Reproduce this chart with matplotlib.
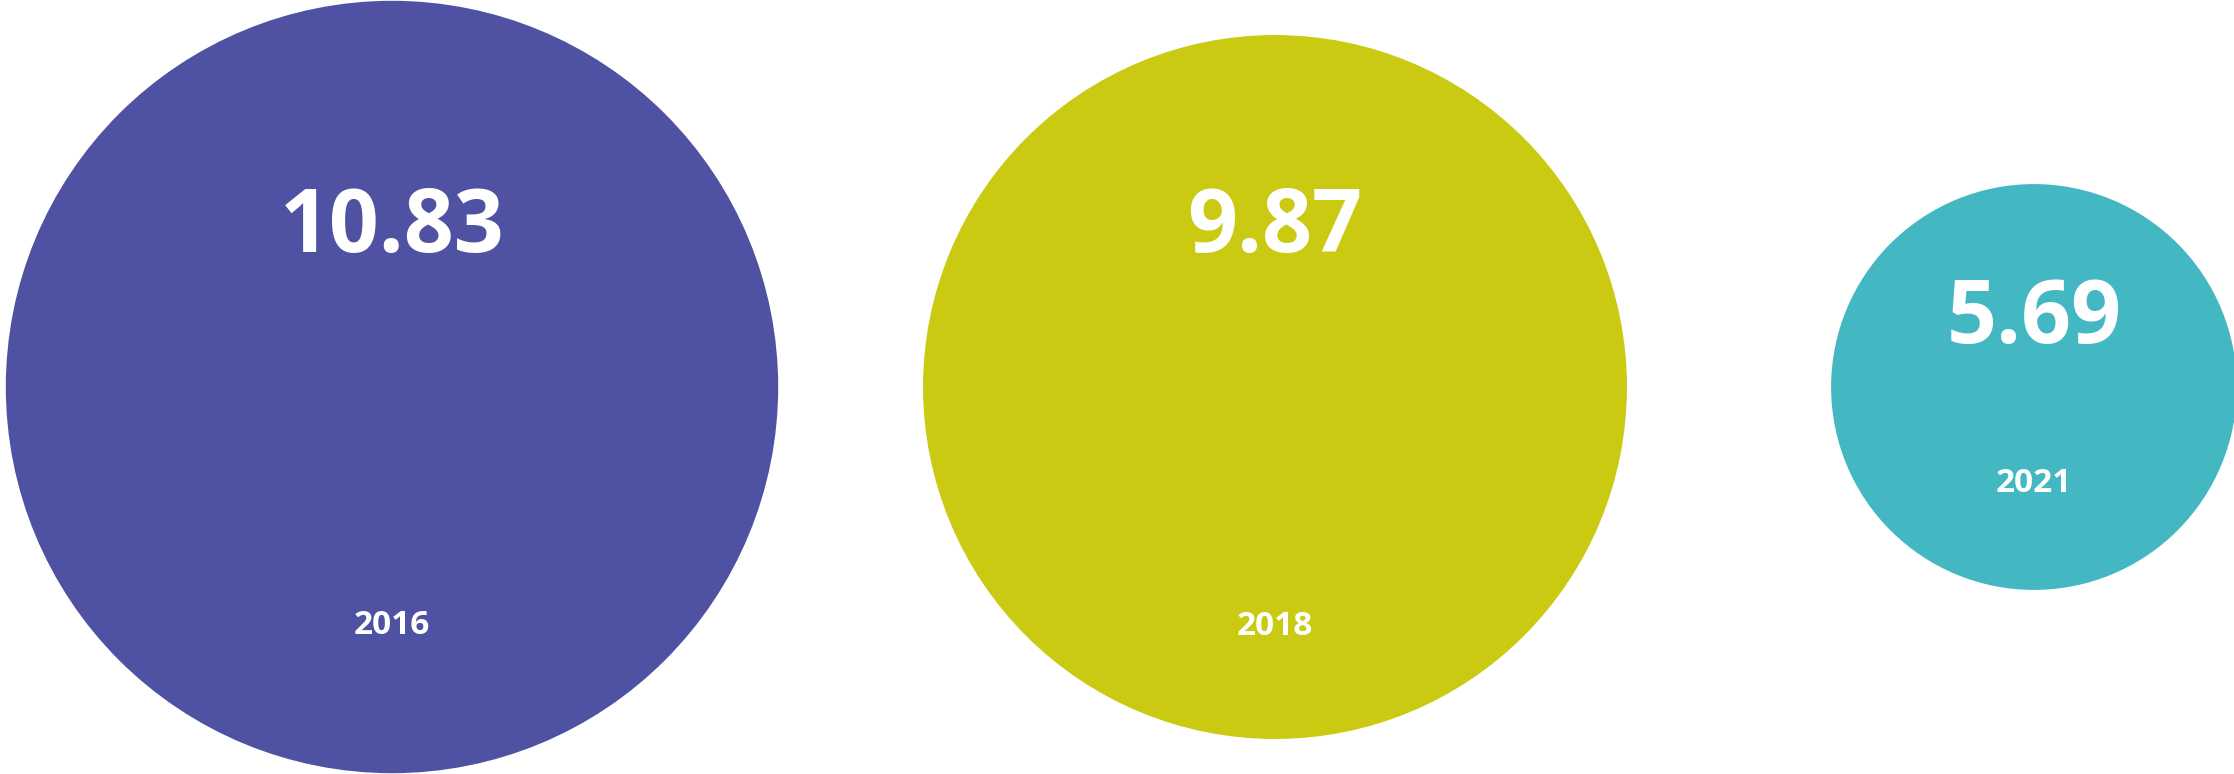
import matplotlib
matplotlib.use('Agg')
import matplotlib.pyplot as plt
from matplotlib.patches import Circle

# data
years = ["2016", "2018", "2021"]
values = [10.83, 9.87, 5.69]
colors = ["#4F52A2", "#CBCA12", "#43B7C2"]

# layout (pixels, y measured from the top)
W, H = 2234, 774
centers_x = [392, 1275, 2034]
center_y = 387
px_per_unit = 35.66   # radius is proportional to the value
value_base = [252, 252, 343]
year_base = [634, 635, 492]

fig = plt.figure(figsize=(W / 100, H / 100), dpi=100)
ax = fig.add_axes([0, 0, 1, 1])
ax.set_xlim(0, W)
ax.set_ylim(H, 0)
ax.set_aspect('equal')
ax.axis('off')

for i in range(len(values)):
    r = values[i] * px_per_unit
    ax.add_patch(Circle((centers_x[i], center_y), r, color=colors[i], lw=0))
    ax.text(centers_x[i], value_base[i], f"{values[i]:.2f}", color='white',
            fontsize=63, fontweight='bold', family='Open Sans',
            ha='center', va='baseline')
    ax.text(centers_x[i], year_base[i], years[i], color='white',
            fontsize=24, fontweight='bold', family='Open Sans',
            ha='center', va='baseline')

fig.savefig('out.png', dpi=100)
